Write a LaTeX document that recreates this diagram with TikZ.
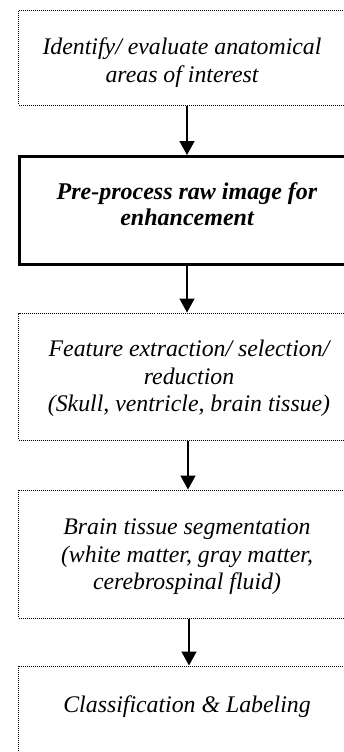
\documentclass[tikz,border=0pt]{standalone}
\usepackage{fontspec}
\setmainfont{Liberation Serif}
\usetikzlibrary{arrows.meta}
\begin{document}
\begin{tikzpicture}[x=1pt,y=-1pt,
  dotbox/.style={draw, line width=1pt, dash pattern=on 1pt off 1pt, inner sep=0pt},
  thickbox/.style={draw, line width=3pt, inner sep=0pt},
  lbl/.style={align=center, inner sep=0pt, font=\fontsize{23.8}{27.5}\selectfont\itshape},
  flow/.style={line width=1.5pt, -{Triangle[width=15pt,length=14pt]}}]
\clip (0,0) rectangle (344,752);
\fill[white] (0,0) rectangle (344,752);
% boxes
\node[dotbox, minimum width=340pt, minimum height=94pt] (b1) at (188.5,58) {};
\node[thickbox, minimum width=337pt, minimum height=108pt] (b2) at (188,210.5) {};
\node[dotbox, minimum width=340pt, minimum height=127pt] (b3) at (188.5,376.5) {};
\node[dotbox, minimum width=340pt, minimum height=128pt] (b4) at (188.5,554) {};
\node[dotbox, minimum width=340pt, minimum height=120pt] (b5) at (188.5,726) {};
% texts
\node[lbl] (t1) at (182,62.5) {Identify/ evaluate anatomical\\areas of interest};
\node[lbl, font=\fontsize{24}{26}\selectfont\bfseries\itshape] (t2) at (187,204.5) {Pre-process raw image for\\enhancement};
\node[lbl] (t3) at (189,378.5) {Feature extraction/ selection/\\reduction\\(Skull, ventricle, brain tissue)};
\node[lbl] (t4) at (187,557) {Brain tissue segmentation\\(white matter, gray matter,\\cerebrospinal fluid)};
\node[lbl] (t5) at (187,707) {Classification \& Labeling};
% arrows
\draw[flow] (b1.south -| 187,0) -- (b2.north -| 187,0);
\draw[flow] (b2.south -| 187,0) -- (b3.north -| 187,0);
\draw[flow] (b3.south -| 188,0) -- (b4.north -| 188,0);
\draw[flow] (b4.south -| 189,0) -- (b5.north -| 189,0);
\end{tikzpicture}
\end{document}
